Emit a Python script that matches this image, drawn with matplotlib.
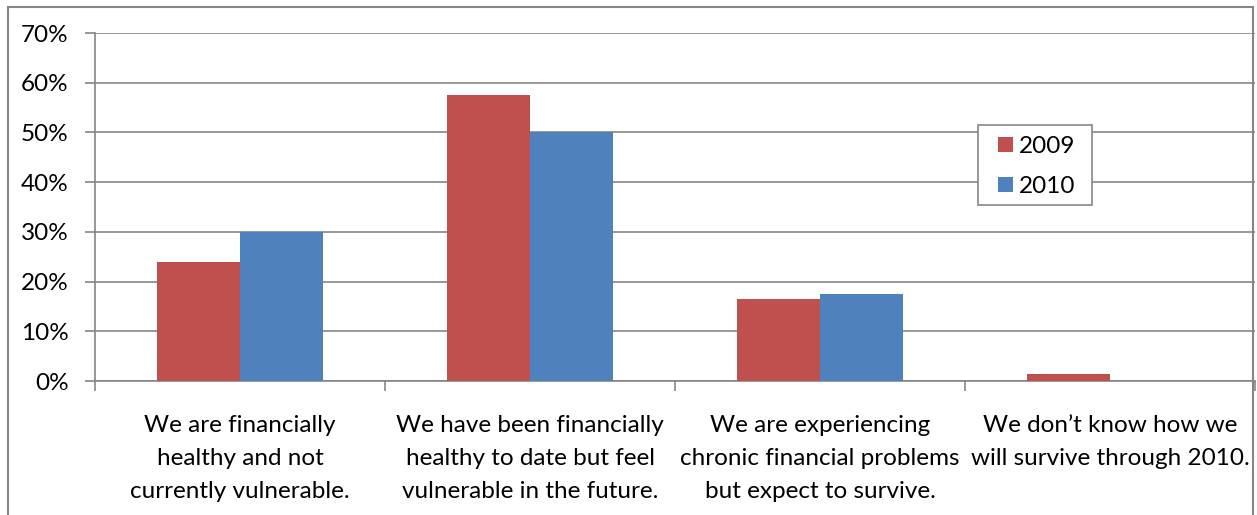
import numpy as np
import matplotlib.pyplot as plt
from matplotlib.patches import Rectangle

categorias = ["We are financially\nhealthy and not\ncurrently vulnerable.",
              "We have been financially\nhealthy to date but feel\nvulnerable in the future.",
              "We are experiencing\nchronic financial problems\nbut expect to survive.",
              "We don\u2019t know how we\nwill survive through 2010."]
series = ["2009", "2010"]
valores_2009 = [24, 57.5, 16.5, 1.5]
valores_2010 = [30, 50, 17.5, 0]
colores = ["#C0504D", "#4F81BD"]
ticks_y = [0, 10, 20, 30, 40, 50, 60, 70]

plt.rcParams['font.family'] = ['Lato', 'DejaVu Sans']

W, H = 1257, 515
fig = plt.figure(figsize=(W / 100, H / 100), dpi=100)

# marco exterior del grafico
fig.patches.append(Rectangle((8 / W, -0.1), (1253 - 8) / W, 1.1 - 7 / H,
                             transform=fig.transFigure, fill=False,
                             edgecolor="#868686", linewidth=1.5))

ax = fig.add_axes([95 / W, (H - 381) / H, (1255 - 95) / W, 348 / H])

x = np.arange(len(categorias))
ancho = 0.286
ax.bar(x - ancho / 2, valores_2009, ancho, color=colores[0], label=series[0], zorder=3)
ax.bar(x + ancho / 2, valores_2010, ancho, color=colores[1], label=series[1], zorder=3)

ax.set_xlim(-0.5, len(categorias) - 0.5)
ax.set_ylim(0, 70)
ax.set_yticks(ticks_y)
ax.set_yticklabels([f"{t}%" for t in ticks_y], fontsize=17.5)
ax.yaxis.grid(True, color="#868686", linewidth=1.2, zorder=0)
ax.tick_params(axis='y', length=7, color="#868686", width=1.2, pad=12)

ax.set_xticks(np.arange(len(categorias) + 1) - 0.5)
ax.set_xticklabels([])
ax.tick_params(axis='x', length=7, color="#868686", width=1.2)
for i, c in enumerate(categorias):
    ax.text(i, -6.8, c, ha="center", va="top", fontsize=17.5, linespacing=1.7,
            transform=ax.transData, clip_on=False)

for lado in ["top", "right"]:
    ax.spines[lado].set_visible(False)
for lado in ["left", "bottom"]:
    ax.spines[lado].set_color("#868686")
    ax.spines[lado].set_linewidth(1.2)

# leyenda: marco aparte para controlar los margenes
fig.patches.append(Rectangle((978 / W, (H - 205) / H), (1092 - 978) / W, 80 / H,
                             transform=fig.transFigure, facecolor="white",
                             edgecolor="#868686", linewidth=1.2, zorder=4))
leg = fig.legend(*ax.get_legend_handles_labels(), loc="upper left",
                 bbox_to_anchor=(998 / W, (H - 136) / H),
                 fontsize=17.5, frameon=False,
                 handlelength=0.62, handleheight=0.62, handletextpad=0.25,
                 labelspacing=0.78, borderpad=0, borderaxespad=0)
leg.set_zorder(5)

fig.savefig("out.png", dpi=100)
